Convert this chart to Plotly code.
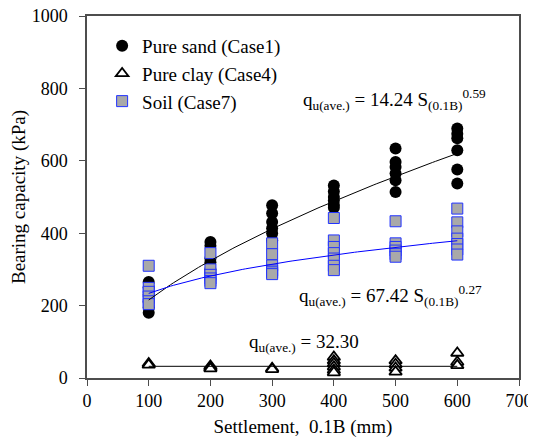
import numpy as np
import plotly.graph_objects as go

settlement = [100, 200, 300, 400, 500, 600]

sand = {
    100: [180, 195, 210, 230, 250, 265],
    200: [376, 365, 330, 320, 300, 290],
    300: [477, 455, 431, 414, 400, 380],
    400: [532, 515, 500, 490, 478, 470],
    500: [634, 597, 583, 565, 546, 514],
    600: [689, 675, 662, 629, 576, 537],
}
clay = {
    100: [40, 36],
    200: [33, 29, 26],
    300: [27, 24],
    400: [58, 48, 40, 31, 22, 15],
    500: [48, 38, 28, 17],
    600: [69, 44, 35],
}
soil = {
    100: [310, 249, 238, 225, 212, 204],
    200: [345, 300, 285, 275, 268, 262],
    300: [372, 342, 311, 297, 292, 287],
    400: [442, 380, 362, 345, 330, 310, 298],
    500: [433, 372, 362, 352, 342, 335],
    600: [468, 430, 405, 385, 370, 355, 341],
}

sand_coef, sand_exp = 14.24, 0.59
soil_coef, soil_exp = 67.42, 0.27
clay_avg = 32.30

def flat(d):
    xs, ys = [], []
    for k, v in d.items():
        xs += [k] * len(v)
        ys += v
    return xs, ys

FONT = "Times New Roman, Liberation Serif, serif"
fig = go.Figure()

sx, sy = flat(sand)
fig.add_trace(go.Scatter(x=sx, y=sy, mode="markers", name="Pure sand (Case1)",
                         marker=dict(symbol="circle", size=12, color="black",
                                     line=dict(width=0))))
cx, cy = flat(clay)
fig.add_trace(go.Scatter(x=cx, y=cy, mode="markers", name="Pure clay (Case4)",
                         marker=dict(symbol="triangle-up", size=11, color="white",
                                     line=dict(width=1.8, color="black"))))
ox, oy = flat(soil)
fig.add_trace(go.Scatter(x=ox, y=oy, mode="markers", name="Soil (Case7)",
                         marker=dict(symbol="square", size=11, color="#a9a9a9",
                                     line=dict(width=1, color="#2233ff"))))

xf = np.linspace(100, 600, 100)
fig.add_trace(go.Scatter(x=xf, y=sand_coef * xf ** sand_exp, mode="lines",
                         line=dict(color="black", width=1), showlegend=False))
fig.add_trace(go.Scatter(x=xf, y=soil_coef * xf ** soil_exp, mode="lines",
                         line=dict(color="#0000ff", width=1), showlegend=False))
fig.add_trace(go.Scatter(x=[100, 600], y=[clay_avg, clay_avg], mode="lines",
                         line=dict(color="black", width=1), showlegend=False))

ann_font = dict(family=FONT, size=19, color="black")
fig.add_annotation(x=498, y=770, xref="x", yref="y", showarrow=False, font=ann_font,
                   text="q<sub>u(ave.)</sub> = 14.24 S<sub>(0.1B)</sub><sup>0.59</sup>")
fig.add_annotation(x=492, y=228, xref="x", yref="y", showarrow=False, font=ann_font,
                   text="q<sub>u(ave.)</sub> = 67.42 S<sub>(0.1B)</sub><sup>0.27</sup>")
fig.add_annotation(x=351, y=96, xref="x", yref="y", showarrow=False, font=ann_font,
                   text="q<sub>u(ave.)</sub> = 32.30")

axis_common = dict(showgrid=False, zeroline=False, showline=True, linecolor="#4d4d4d",
                   linewidth=1.5, mirror=True, ticks="outside", ticklen=6,
                   tickcolor="#4d4d4d", tickwidth=1, automargin=False,
                   ticklabeloverflow="allow",
                   tickfont=dict(family=FONT, size=18, color="black"))

fig.update_xaxes(range=[0, 700], tickvals=[0, 100, 200, 300, 400, 500, 600, 700],
                 title=dict(text="Settlement,  0.1B (mm)", font=dict(family=FONT, size=19, color="black"),
                            standoff=9),
                 **axis_common)
fig.update_yaxes(range=[0, 1000], tickvals=[0, 200, 400, 600, 800, 1000],
                 ticklabelstandoff=8,
                 title=dict(text="Bearing capacity (kPa)", font=dict(family=FONT, size=19, color="black"),
                            standoff=11),
                 **axis_common)

# page body adds an 8px offset; margins compensate so the plot area sits where the reference has it
fig.update_layout(
    width=536, height=437,
    margin=dict(l=79, r=25, t=8, b=67, autoexpand=False),
    plot_bgcolor="white", paper_bgcolor="white",
    legend=dict(x=0.035, y=0.97, xanchor="left", yanchor="top",
                font=dict(family=FONT, size=19, color="black"),
                bgcolor="rgba(0,0,0,0)", itemwidth=30, tracegroupgap=0),
)

fig.write_html("out.html")
